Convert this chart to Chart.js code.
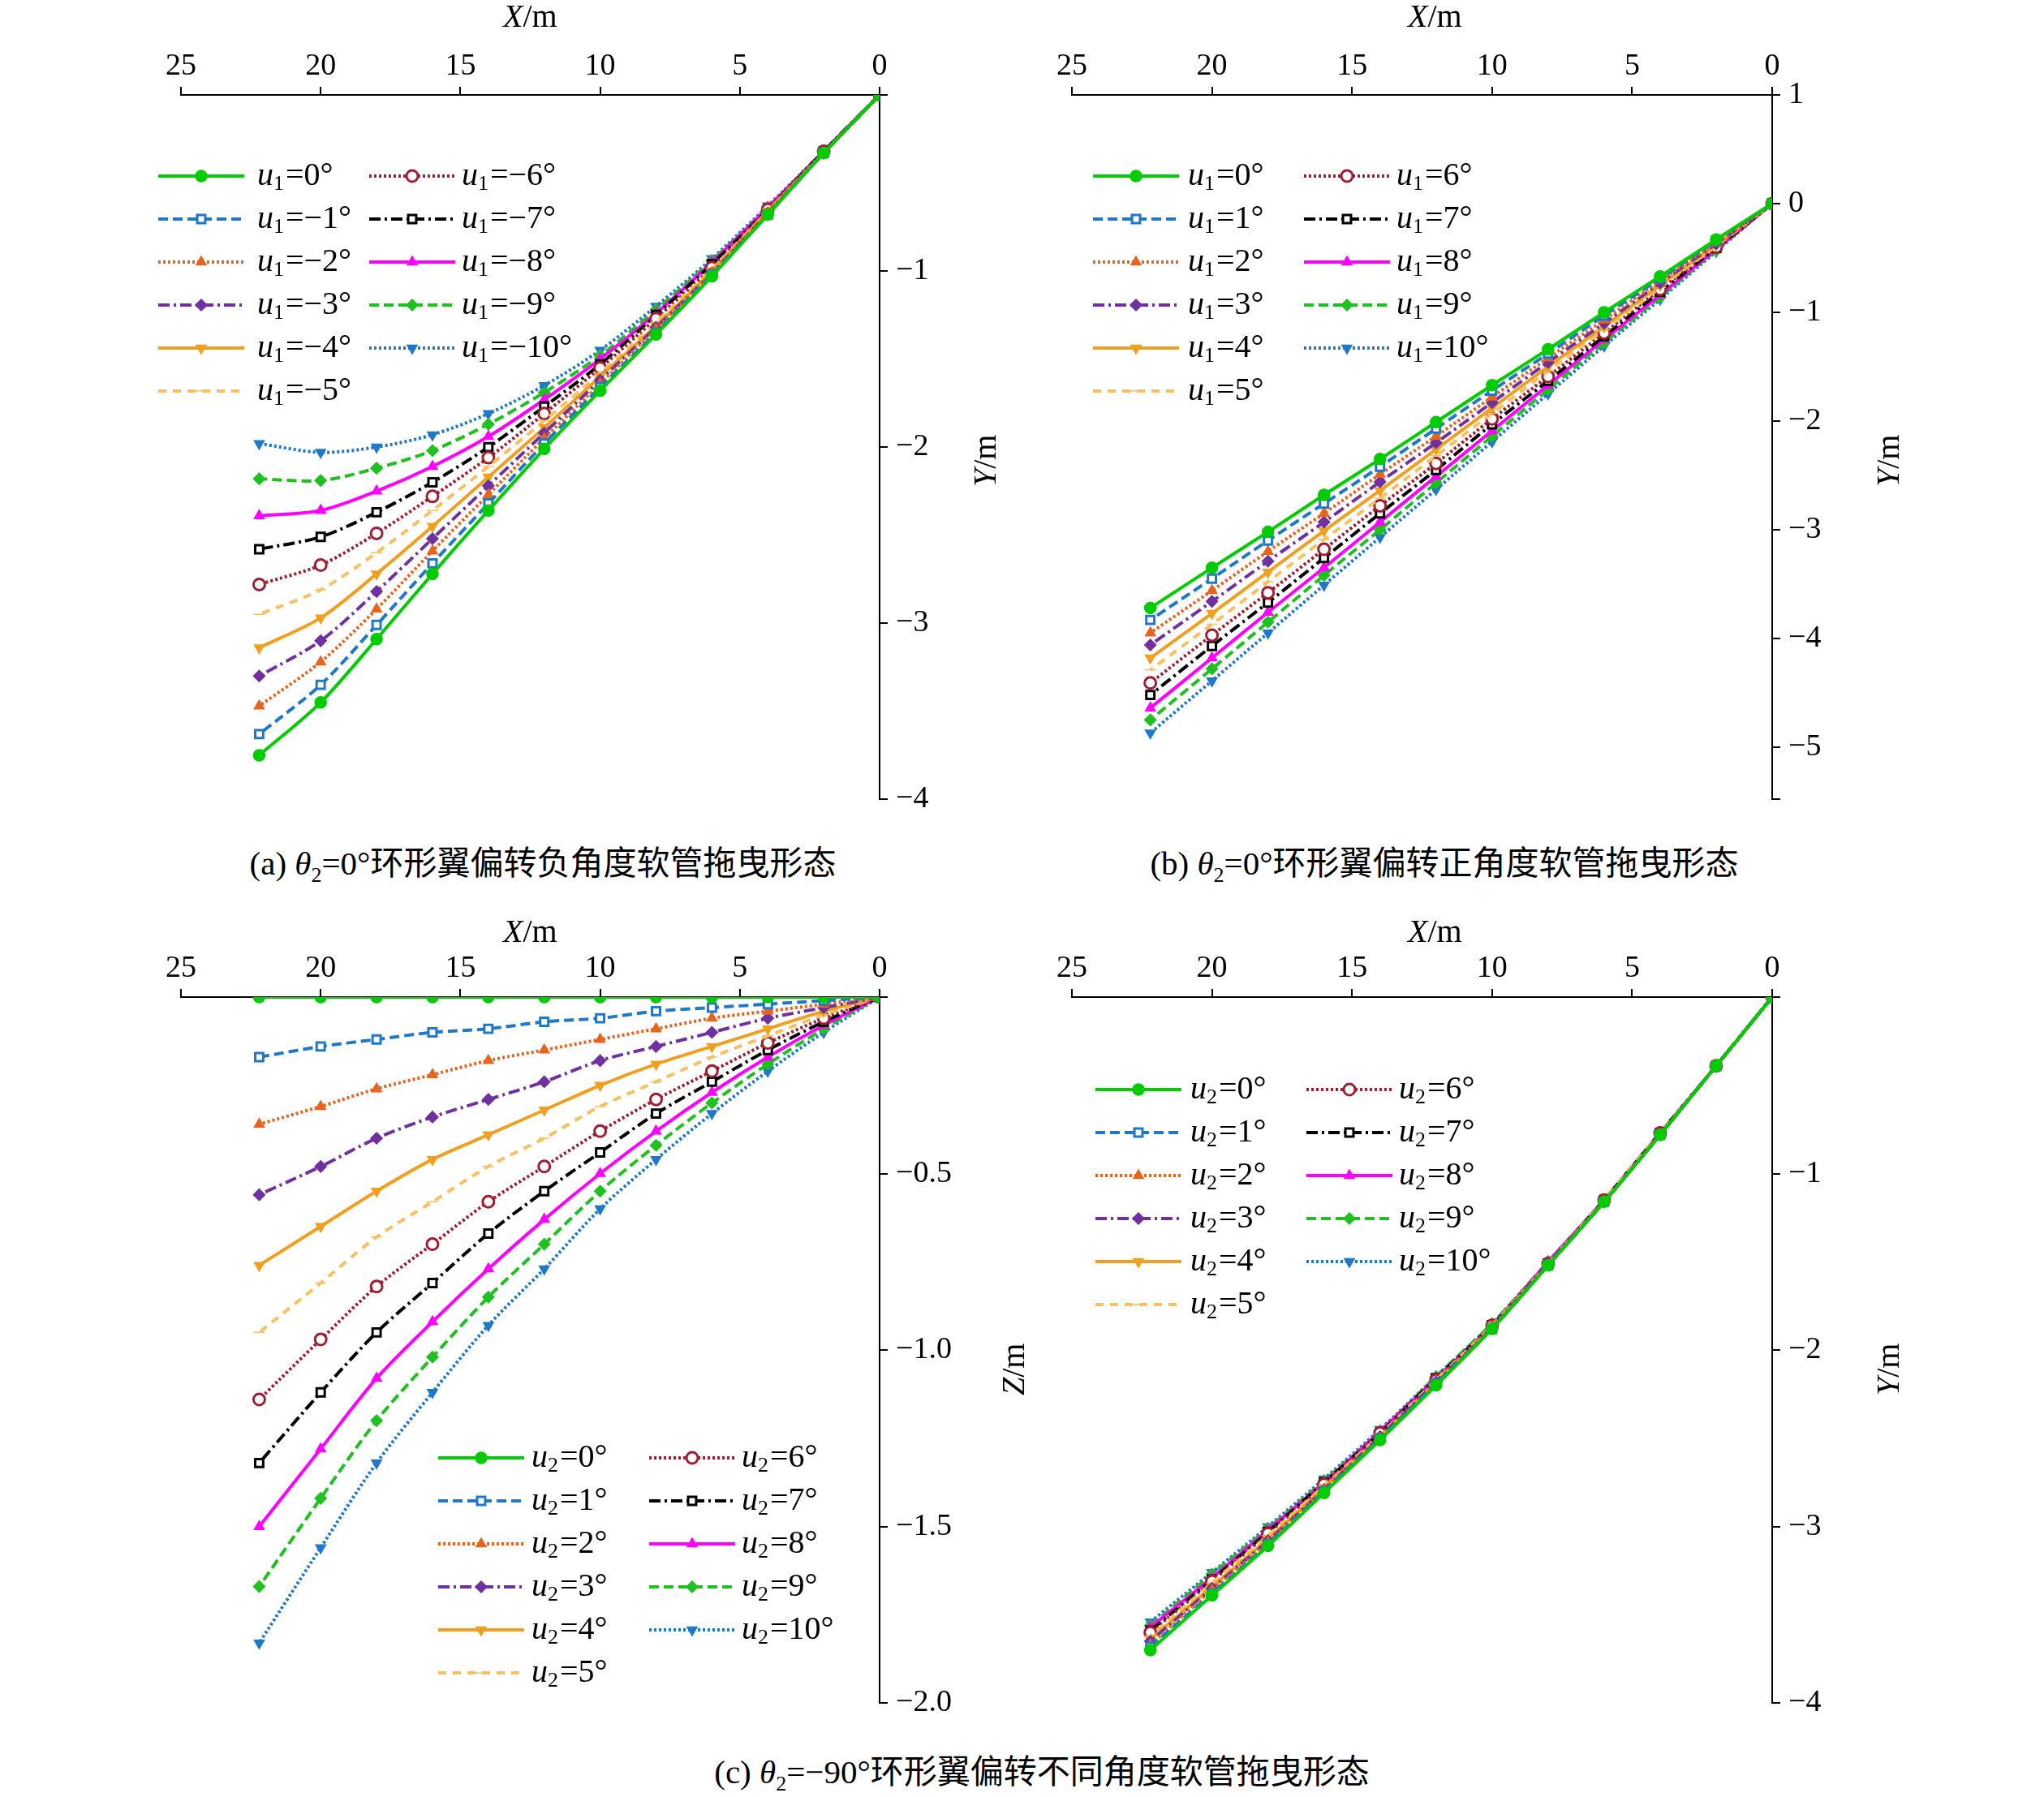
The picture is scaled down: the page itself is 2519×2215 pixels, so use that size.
<!DOCTYPE html>
<html><head><meta charset="utf-8">
<script src="https://cdn.jsdelivr.net/npm/chart.js@4.4.1/dist/chart.umd.min.js"></script>
<style>
body{margin:0;background:#fff;width:2519px;height:2215px;position:relative;overflow:hidden;font-family:"Liberation Serif","Noto Sans CJK SC",serif}
canvas{position:absolute}
.t{position:absolute;font-size:40px;color:#000;white-space:nowrap}
.cap{position:absolute;font-size:41px;white-space:nowrap;transform:translateX(-50%)}
.vt{position:absolute;font-size:40px;transform:rotate(-90deg);transform-origin:left top;white-space:nowrap}
</style></head><body>
<canvas id="ca" width="1194" height="1018" style="left:123px;top:0"></canvas>
<canvas id="cb" width="1194" height="1018" style="left:1221px;top:0"></canvas>
<canvas id="cc" width="1194" height="1020" style="left:123px;top:1112px"></canvas>
<canvas id="cd" width="1194" height="1020" style="left:1221px;top:1112px"></canvas>

<div class="t" style="left:620px;top:-4px"><i>X</i>/m</div>
<div class="t" style="left:1735px;top:-4px"><i>X</i>/m</div>
<div class="t" style="left:620px;top:1124px"><i>X</i>/m</div>
<div class="t" style="left:1735px;top:1124px"><i>X</i>/m</div>
<div class="vt" style="left:1190px;top:600px"><i>Y</i>/m</div>
<div class="vt" style="left:2303px;top:600px"><i>Y</i>/m</div>
<div class="vt" style="left:1225px;top:1720px"><i>Z</i>/m</div>
<div class="vt" style="left:2303px;top:1720px"><i>Y</i>/m</div>
<div class="cap" style="left:669px;top:1030px">(a) <i>θ</i><sub style="font-size:26px">2</sub>=0°环形翼偏转负角度软管拖曳形态</div>
<div class="cap" style="left:1780px;top:1030px">(b) <i>θ</i><sub style="font-size:26px">2</sub>=0°环形翼偏转正角度软管拖曳形态</div>
<div class="cap" style="left:1284px;top:2150px">(c) <i>θ</i><sub style="font-size:26px">2</sub>=−90°环形翼偏转不同角度软管拖曳形态</div>

<script>
const xs = [0, 2, 4, 6, 8, 10, 12, 14, 16, 18, 20, 22.2]

// panel (a): u1 = 0 .. -10, Y (m, depth magnitude)
const yA = [
  [0,.33,.68,1.03,1.36,1.68,2.01,2.36,2.72,3.09,3.45,3.75],
  [0,.33,.68,1.02,1.35,1.66,1.98,2.32,2.66,3.01,3.35,3.63],
  [0,.33,.67,1.01,1.33,1.64,1.95,2.27,2.59,2.92,3.22,3.47],
  [0,.33,.67,1.01,1.32,1.62,1.92,2.22,2.52,2.82,3.10,3.30],
  [0,.33,.66,1.00,1.31,1.60,1.89,2.17,2.45,2.72,2.97,3.14],
  [0,.33,.66,.99,1.29,1.58,1.85,2.11,2.36,2.60,2.81,2.95],
  [0,.32,.65,.98,1.27,1.55,1.81,2.06,2.28,2.49,2.67,2.78],
  [0,.32,.65,.96,1.25,1.53,1.77,2.00,2.20,2.37,2.51,2.58],
  [0,.32,.64,.95,1.24,1.50,1.73,1.94,2.11,2.25,2.36,2.39],
  [0,.32,.64,.94,1.22,1.48,1.69,1.87,2.02,2.12,2.19,2.18],
  [0,.32,.63,.93,1.20,1.45,1.65,1.81,1.93,2.00,2.03,1.98]
]
// panel (b): u1 = 0 .. 10
const yB = [
  [0,.33,.67,1.00,1.34,1.67,2.01,2.35,2.68,3.02,3.35,3.72],
  [0,.34,.69,1.03,1.38,1.72,2.07,2.42,2.76,3.10,3.45,3.83],
  [0,.36,.71,1.07,1.42,1.78,2.14,2.49,2.85,3.20,3.56,3.95],
  [0,.37,.73,1.10,1.46,1.83,2.20,2.56,2.93,3.29,3.66,4.06],
  [0,.38,.75,1.13,1.50,1.88,2.26,2.64,3.01,3.39,3.77,4.18],
  [0,.39,.77,1.16,1.54,1.93,2.32,2.71,3.09,3.48,3.87,4.29],
  [0,.40,.79,1.19,1.59,1.98,2.39,2.78,3.18,3.58,3.97,4.41],
  [0,.41,.81,1.22,1.63,2.03,2.45,2.85,3.26,3.67,4.07,4.52],
  [0,.42,.84,1.25,1.67,2.09,2.51,2.93,3.35,3.76,4.18,4.64],
  [0,.43,.86,1.28,1.71,2.14,2.57,3.00,3.42,3.85,4.28,4.75],
  [0,.44,.88,1.31,1.75,2.19,2.63,3.07,3.51,3.95,4.39,4.87]
]
// panel (c): u2 = 0 .. 10, Z
const zC = [
  [0,0,0,0,0,0,0,0,0,0,0,0],
  [0,.01,.02,.03,.04,.06,.07,.09,.10,.12,.14,.17],
  [0,.02,.04,.06,.09,.12,.15,.18,.22,.26,.31,.36],
  [0,.03,.06,.10,.14,.18,.24,.29,.34,.40,.48,.56],
  [0,.04,.09,.14,.19,.25,.32,.39,.46,.55,.65,.76],
  [0,.05,.11,.17,.24,.31,.40,.48,.58,.68,.81,.95],
  [0,.06,.13,.21,.29,.38,.48,.58,.70,.82,.97,1.14],
  [0,.07,.15,.24,.33,.44,.55,.67,.81,.95,1.12,1.32],
  [0,.08,.17,.27,.38,.50,.63,.77,.92,1.08,1.28,1.50],
  [0,.09,.19,.30,.42,.55,.70,.85,1.02,1.20,1.42,1.67],
  [0,.10,.21,.33,.46,.60,.77,.93,1.12,1.32,1.56,1.83]
]
// panel (d): u2 = 0 .. 10, Y
const yD = [
  [0,.39,.78,1.16,1.52,1.88,2.20,2.51,2.81,3.11,3.39,3.70],
  [0,.39,.78,1.16,1.52,1.88,2.19,2.50,2.80,3.10,3.38,3.68],
  [0,.39,.78,1.16,1.52,1.87,2.19,2.50,2.79,3.09,3.36,3.67],
  [0,.39,.78,1.16,1.51,1.87,2.18,2.49,2.79,3.08,3.35,3.65],
  [0,.39,.78,1.16,1.51,1.87,2.18,2.49,2.78,3.07,3.34,3.64],
  [0,.39,.77,1.15,1.51,1.86,2.17,2.48,2.77,3.05,3.32,3.62],
  [0,.39,.77,1.15,1.51,1.86,2.17,2.47,2.76,3.04,3.31,3.60],
  [0,.39,.77,1.15,1.51,1.86,2.16,2.47,2.75,3.03,3.30,3.59],
  [0,.39,.77,1.15,1.50,1.86,2.16,2.46,2.75,3.02,3.29,3.57],
  [0,.39,.77,1.15,1.50,1.85,2.15,2.46,2.74,3.01,3.27,3.56],
  [0,.39,.77,1.15,1.50,1.85,2.15,2.45,2.73,3.00,3.26,3.54]
]
const labA = ['0','−1','−2','−3','−4','−5','−6','−7','−8','−9','−10']
const labB = ['0','1','2','3','4','5','6','7','8','9','10']

const colors = ['#00cc00','#1f78c8','#e8641e','#7030a0','#f0a020','#f8c060','#a01e32','#000000','#ff00ff','#20c020','#1f78c8']
const dashes = [[],[12,6],[3,3],[14,5,3,5],[],[10,8],[3,3],[14,5,3,5],[],[12,6],[3,3]]
const shapes = ['circle','rect','triangle','rectRot','triangle','line','circle','rect','triangle','rectRot','triangle']
const rots = [0,0,0,0,180,0,0,0,0,0,180]
const open = [false,true,false,false,false,false,true,true,false,false,false]

function sets(arr) {
    return arr.map((ys, i) => ({
        data: xs.map((x, j) => ({ x: x, y: -ys[j] })),
        borderColor: colors[i],
        backgroundColor: open[i] ? '#fff' : colors[i],
        borderWidth: 4,
        borderDash: dashes[i],
        pointStyle: shapes[i],
        rotation: rots[i],
        pointRadius: 7,
        pointBorderWidth: open[i] ? 3 : 1.5,
        showLine: true,
        tension: 0.3
    }))
}

function legendPlugin(cfg) {
    return {
        id: 'leg',
        afterDraw(chart) {
            const c = chart.ctx, a = chart.chartArea
            c.save()
            for (let i = 0; i < 11; i++) {
                const col = i < 6 ? 0 : 1, row = i < 6 ? i : i - 6
                const lx = a.left + cfg.line[col], tx = a.left + cfg.text[col]
                const y = a.top + cfg.top + row * 53
                c.strokeStyle = colors[i]; c.lineWidth = 4; c.setLineDash(dashes[i])
                c.beginPath(); c.moveTo(lx, y); c.lineTo(lx + 106, y); c.stroke()
                c.setLineDash([])
                c.fillStyle = open[i] ? '#fff' : colors[i]
                c.lineWidth = open[i] ? 3 : 1.5
                Chart.helpers.drawPoint(c, { pointStyle: shapes[i], rotation: rots[i], radius: 7, borderWidth: c.lineWidth }, lx + 53, y)
                c.fillStyle = '#000'; c.textBaseline = 'middle'
                c.font = 'italic 40px "Liberation Serif"'
                c.fillText('u', tx, y)
                let w = c.measureText('u').width
                c.font = '26px "Liberation Serif"'
                c.fillText(cfg.sub, tx + w, y + 10)
                w += c.measureText(cfg.sub).width
                c.font = '40px "Liberation Serif"'
                c.fillText('=' + cfg.labels[i] + '°', tx + w + 2, y)
            }
            c.restore()
        }
    }
}

function make(id, arr, ymin, ymax, step, dec, leg, yw) {
    new Chart(document.getElementById(id), {
        type: 'scatter',
        data: { datasets: sets(arr) },
        plugins: [legendPlugin(leg)],
        options: {
            responsive: false,
            animation: false,
            layout: { padding: { left: 100, bottom: 20, top: 0, right: 0 } },
            plugins: { legend: { display: false }, tooltip: { enabled: false } },
            scales: {
                x: {
                    type: 'linear', position: 'top', reverse: true, min: 0, max: 25,
                    afterFit: s => { s.height = 117 },
                    ticks: { stepSize: 5, color: '#000', font: { size: 38, family: 'Liberation Serif' }, padding: 2, maxRotation: 0 },
                    grid: { drawOnChartArea: false, color: '#000', tickLength: 10, lineWidth: 2 },
                    border: { color: '#000', width: 2 }
                },
                y: {
                    position: 'right', min: ymin, max: ymax,
                    afterFit: s => { s.width = yw },
                    ticks: {
                        stepSize: step, color: '#000', font: { size: 38, family: 'Liberation Serif' }, padding: 10,
                        callback: v => {
                            if (Math.abs(v) < 1e-9 && ymax === 0) return ''
                            if (Math.abs(v / step - Math.round(v / step)) > 1e-6) return ''
                            return (v < 0 ? '−' : '') + Math.abs(v).toFixed(dec)
                        }
                    },
                    grid: { drawOnChartArea: false, color: '#000', tickLength: 10, lineWidth: 2 },
                    border: { color: '#000', width: 2 }
                }
            }
        }
    })
}

make('ca', yA, -4, 0, 1, 0, { line: [-28, 232], text: [94, 346], top: 100, sub: '1', labels: labA }, 233)
make('cb', yB, -5.48, 1, 1, 0, { line: [26, 286], text: [143, 400], top: 100, sub: '1', labels: labB }, 231)
make('cc', zC, -2, 0, 0.5, 1, { line: [317, 577], text: [432, 691], top: 568, sub: '2', labels: labB }, 233)
make('cd', yD, -4, 0, 1, 0, { line: [29, 289], text: [146, 403], top: 114, sub: '2', labels: labB }, 231)
</script>
</body></html>
